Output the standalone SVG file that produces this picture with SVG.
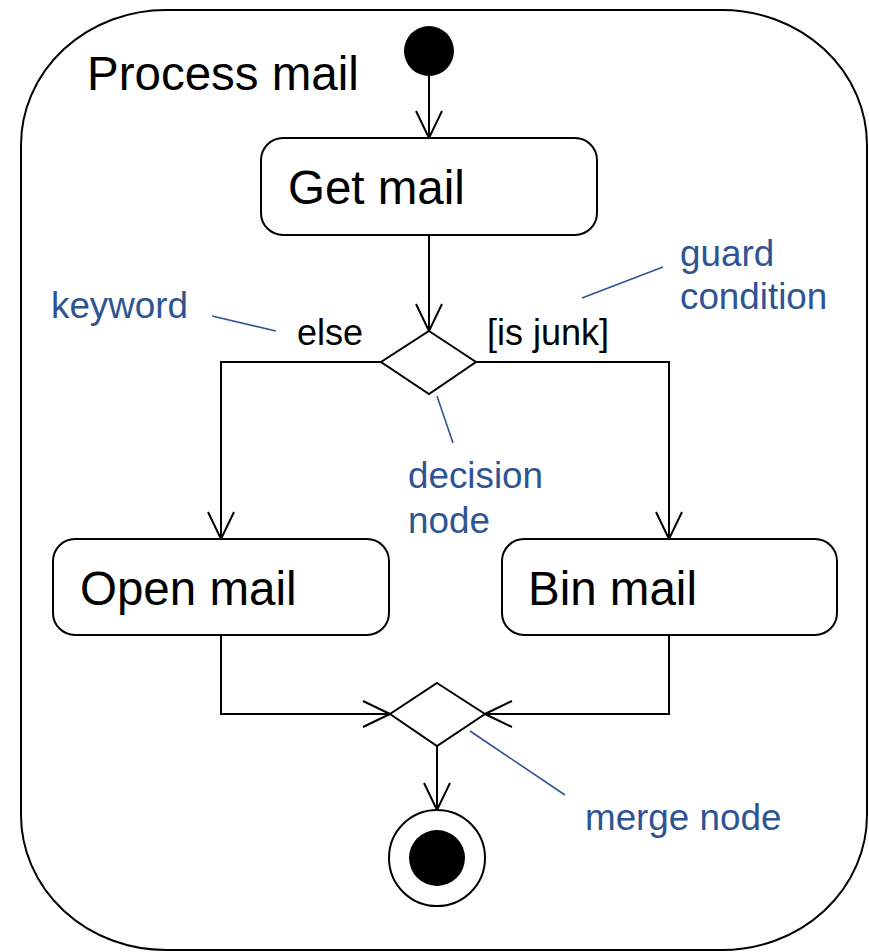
<svg xmlns="http://www.w3.org/2000/svg" width="869" height="952" viewBox="0 0 869 952">
<defs>
<style>
.frame{fill:#fff;stroke:#000;stroke-width:2}
.box{fill:#fff;stroke:#000;stroke-width:2}
.conn{fill:none;stroke:#000;stroke-width:2}
.note{fill:none;stroke:#2E5494;stroke-width:1.6}
.big{font-family:"Liberation Sans",Arial,sans-serif;font-size:47.5px;fill:#000}
.lbl{font-family:"Liberation Sans",Arial,sans-serif;font-size:36px;fill:#000}
.ann{font-family:"Liberation Sans",Arial,sans-serif;font-size:36.8px;fill:#2E5494}
</style>
<marker id="arr" viewBox="-30 -16 32 32" refX="0" refY="0" markerWidth="32" markerHeight="32" markerUnits="userSpaceOnUse" orient="auto">
<path d="M-27,-13 L0,0 L-27,13" fill="none" stroke="#000" stroke-width="2"/>
</marker>
</defs>
<rect width="869" height="952" fill="#fff"/>
<g id="frame">
<rect class="frame" x="21" y="10" width="846" height="940" rx="145" ry="135"/>
<text class="big" x="87" y="90">Process mail</text>
</g>
<g id="connectors">
<path class="conn" d="M429,76 L429,138" marker-end="url(#arr)"/>
<path class="conn" d="M429,235 L429,331" marker-end="url(#arr)"/>
<path class="conn" d="M381,362 L221,362 L221,539" marker-end="url(#arr)"/>
<path class="conn" d="M476,362 L669,362 L669,539" marker-end="url(#arr)"/>
<path class="conn" d="M221,635 L221,714 L390,714" marker-end="url(#arr)"/>
<path class="conn" d="M669,635 L669,714 L485,714" marker-end="url(#arr)"/>
<path class="conn" d="M437,746 L437,810" marker-end="url(#arr)"/>
<text class="lbl" x="297" y="345">else</text>
<text class="lbl" x="487" y="345">[is junk]</text>
</g>
<g id="initial">
<circle cx="429" cy="51" r="25" fill="#000"/>
</g>
<g id="get-mail">
<rect class="box" x="261" y="138" width="336" height="97" rx="22" ry="22"/>
<text class="big" x="288" y="204">Get mail</text>
</g>
<g id="decision">
<polygon class="box" points="429,331 476,362 429,394 381,362"/>
</g>
<g id="open-mail">
<rect class="box" x="53" y="539" width="336" height="96" rx="22" ry="22"/>
<text class="big" x="80" y="605">Open mail</text>
</g>
<g id="bin-mail">
<rect class="box" x="502" y="539" width="335" height="96" rx="22" ry="22"/>
<text class="big" x="528" y="605">Bin mail</text>
</g>
<g id="merge">
<polygon class="box" points="437,683 485,714 437,746 390,714"/>
</g>
<g id="final">
<circle cx="437" cy="858" r="48" fill="#fff" stroke="#000" stroke-width="2"/>
<circle cx="437" cy="858" r="28" fill="#000"/>
</g>
<g id="annotations">
<line class="note" x1="212" y1="316" x2="276" y2="331"/>
<text class="ann" x="51" y="318">keyword</text>
<line class="note" x1="582" y1="298" x2="663" y2="267"/>
<text class="ann" x="680" y="266">guard</text>
<text class="ann" x="680" y="309">condition</text>
<line class="note" x1="437" y1="396" x2="453" y2="443"/>
<text class="ann" x="408" y="488">decision</text>
<text class="ann" x="408" y="533">node</text>
<line class="note" x1="470" y1="731" x2="565" y2="795"/>
<text class="ann" x="585" y="830">merge node</text>
</g>
</svg>
